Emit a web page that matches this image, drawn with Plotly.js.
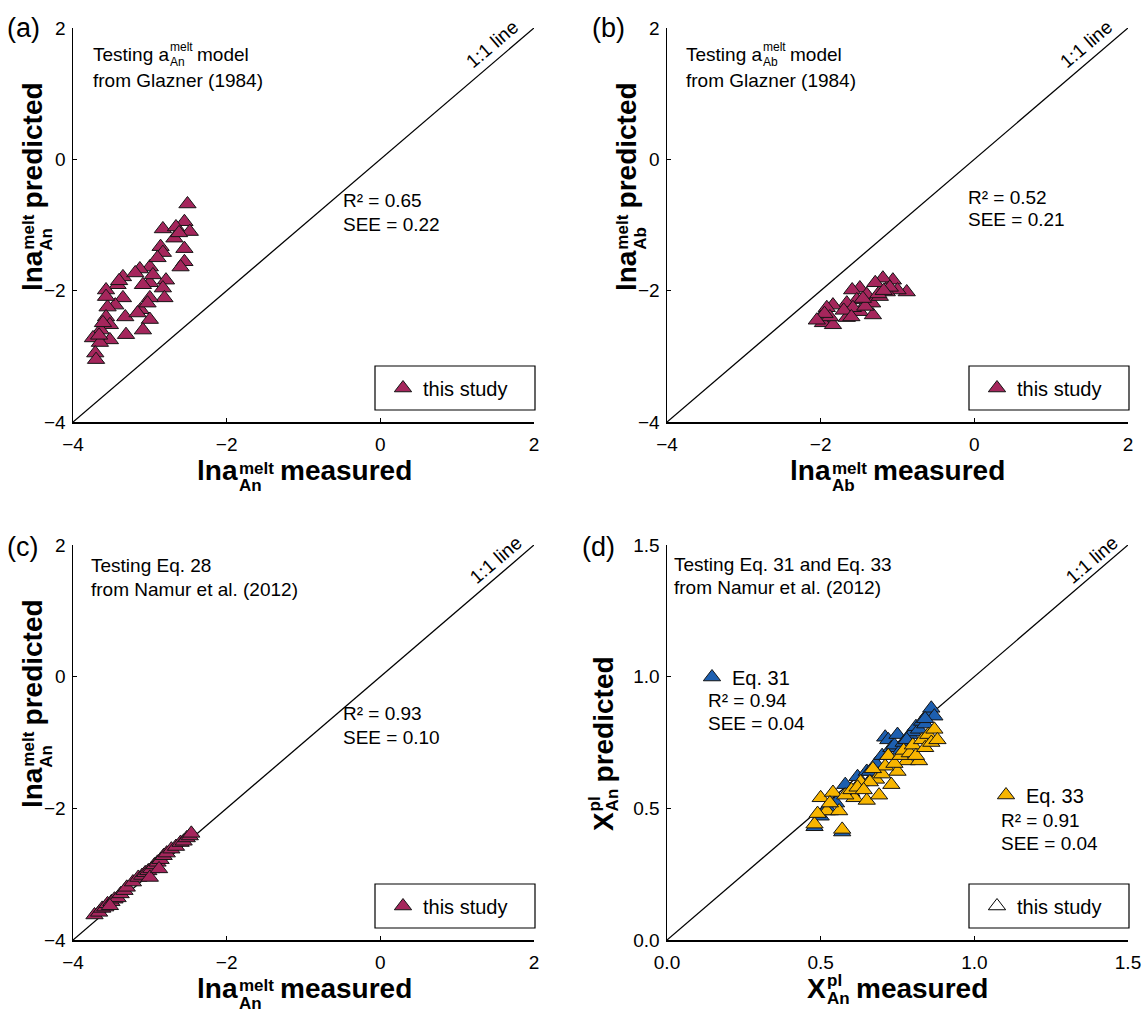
<!DOCTYPE html>
<html><head><meta charset="utf-8">
<script src="https://cdn.plot.ly/plotly-3.0.1.min.js"></script>
<style>html,body{margin:0;padding:0;background:#fff}#chart{width:1144px;height:1013px}</style>
</head><body><div id="chart"></div>
<script>
// ---------------- data ----------------
const aMeasured  = [-2.51,-2.55,-2.83,-2.66,-2.48,-2.68,-2.86,-2.55,-2.83,-2.55,-2.60,-3.00,-3.13,-2.90,-3.35,-3.00,-2.79,-3.09,-3.42,-3.57,-2.83,-2.81,-3.00,-3.35,-3.45,-3.55,-3.12,-3.00,-3.32,-3.57,-3.52,-3.64,-3.09,-3.31,-3.74,-3.52,-3.65,-3.71,-3.70,-3.57,-3.19,-2.96,-3.03,-3.16,-3.61,-3.40,-2.62,-3.66];
const aPredicted = [-0.68,-0.95,-1.06,-1.03,-1.10,-1.20,-1.33,-1.36,-1.42,-1.56,-1.64,-1.64,-1.67,-1.50,-1.79,-1.88,-1.84,-1.91,-1.91,-1.99,-1.96,-2.11,-2.11,-2.11,-2.22,-2.25,-2.29,-2.44,-2.40,-2.40,-2.52,-2.60,-2.60,-2.67,-2.72,-2.75,-2.79,-2.95,-3.05,-2.09,-1.73,-1.76,-2.19,-2.34,-2.49,-1.85,-1.12,-2.68];

const bMeasured  = [-0.88,-1.06,-1.19,-1.29,-1.00,-1.14,-1.49,-1.59,-1.40,-1.33,-1.53,-1.66,-1.49,-1.32,-1.66,-1.84,-1.92,-2.00,-1.97,-1.84,-1.88,-1.23,-1.58,-1.42,-1.10,-1.25,-1.70,-1.95,-2.05,-1.45,-1.18,-1.60];
const bPredicted = [-2.02,-1.84,-1.81,-1.88,-1.99,-2.02,-1.96,-1.99,-2.06,-2.19,-2.14,-2.19,-2.32,-2.37,-2.41,-2.22,-2.26,-2.41,-2.49,-2.52,-2.40,-2.09,-2.26,-2.24,-1.95,-2.05,-2.30,-2.35,-2.45,-2.12,-2.00,-2.40];

const cMeasured  = [-3.72,-3.66,-3.62,-3.58,-3.55,-3.50,-3.46,-3.42,-3.38,-3.33,-3.30,-3.22,-3.15,-3.10,-3.06,-3.02,-2.98,-2.94,-2.90,-2.86,-2.82,-2.78,-2.72,-2.66,-2.60,-2.56,-2.52,-2.48,-2.46,-3.52,-3.00,-2.88];
const cPredicted = [-3.62,-3.58,-3.52,-3.50,-3.45,-3.42,-3.38,-3.36,-3.30,-3.25,-3.20,-3.12,-3.05,-3.02,-2.98,-2.95,-2.92,-2.86,-2.82,-2.78,-2.72,-2.68,-2.62,-2.58,-2.52,-2.50,-2.45,-2.42,-2.38,-3.48,-3.05,-2.92];

const eq31Measured  = [0.48,0.50,0.52,0.55,0.57,0.58,0.60,0.62,0.63,0.65,0.67,0.68,0.70,0.71,0.72,0.73,0.74,0.75,0.76,0.77,0.78,0.79,0.80,0.81,0.82,0.83,0.84,0.85,0.86,0.87,0.62,0.66,0.72,0.78,0.84,0.53];
const eq31Predicted = [0.43,0.47,0.50,0.52,0.41,0.59,0.56,0.62,0.58,0.64,0.62,0.67,0.70,0.77,0.76,0.73,0.74,0.78,0.72,0.75,0.76,0.78,0.79,0.81,0.80,0.83,0.82,0.86,0.88,0.85,0.58,0.64,0.70,0.76,0.84,0.49];
const eq33Measured  = [0.48,0.57,0.52,0.56,0.50,0.61,0.65,0.69,0.73,0.75,0.68,0.63,0.54,0.78,0.82,0.49,0.53,0.58,0.60,0.62,0.66,0.70,0.71,0.72,0.74,0.76,0.77,0.79,0.80,0.81,0.83,0.84,0.85,0.86,0.87,0.88,0.64,0.67];
const eq33Predicted = [0.44,0.42,0.49,0.49,0.54,0.54,0.53,0.55,0.59,0.64,0.61,0.60,0.56,0.68,0.68,0.48,0.52,0.55,0.57,0.58,0.60,0.63,0.66,0.70,0.67,0.70,0.72,0.71,0.74,0.70,0.76,0.73,0.78,0.75,0.80,0.76,0.57,0.65];

const lnRange = [-4, 2];
const xRange  = [0, 1.5];
const lnTicks = [-4, -2, 0, 2];
const xTicks  = [0, 0.5, 1.0, 1.5];

// ---------------- helpers ----------------
const W = 1144, H = 1013;
const FONT = 'Liberation Sans, Arial, sans-serif';
const px = v => v / W, py = v => 1 - v / H;
const cvs = document.createElement('canvas').getContext('2d');
function tw(t, size, bold) { cvs.font = (bold ? 'bold ' : '') + size + 'px "Liberation Sans"'; return cvs.measureText(t).width; }
function ann(t, x, y, size, o = {}) {
  return Object.assign({ text: t, xref: 'paper', yref: 'paper', x: px(x), y: py(y), xanchor: 'left', yanchor: 'middle',
    showarrow: false, borderpad: 0, font: { family: FONT, size: size, color: '#000', weight: o.bold ? 'bold' : 'normal' } }, o.extra || {});
}
function stackH(pre, sup, sub, post, o) {
  const s = o.size, ss = o.ssize, b = !!o.bold;
  const wPre = tw(pre, s, b), wSS = Math.max(tw(sup, ss, b), tw(sub, ss, b)), gap = tw(' ', s, b), wPost = tw(post, s, b);
  const total = wPre + wSS + gap + wPost;
  const x0 = o.cx !== undefined ? o.cx - total / 2 : o.x;
  return [
    ann(pre, x0, o.cy, s, { bold: b }),
    ann(sup, x0 + wPre + 1, o.cy + o.supDy, ss, { bold: b }),
    ann(sub, x0 + wPre + 1, o.cy + o.subDy, ss, { bold: b }),
    ann(post, x0 + wPre + wSS + gap, o.cy, s, { bold: b })
  ];
}
function stackV(pre, sup, sub, post, o) {
  const s = o.size, ss = o.ssize, b = true;
  const wPre = tw(pre, s, b), wSS = Math.max(tw(sup, ss, b), tw(sub, ss, b)), gap = tw(' ', s, b), wPost = tw(post, s, b);
  const total = wPre + wSS + gap + wPost;
  const bottom = o.cy + total / 2;
  const mk = (t, x, y, size) => ann(t, x, y, size, { bold: b, extra: { textangle: -90, xanchor: 'center', yanchor: 'bottom' } });
  return [
    mk(pre, o.cx, bottom, s),
    mk(sup, o.cx + o.supDx, bottom - wPre - 1, ss),
    mk(sub, o.cx + o.subDx, bottom - wPre - 1, ss),
    mk(post, o.cx, bottom - wPre - wSS - gap, s)
  ];
}

const P = {
  a: { l: 73, r: 534, t: 28, b: 422 },
  b: { l: 667, r: 1128, t: 28, b: 422 },
  c: { l: 73, r: 534, t: 545, b: 940 },
  d: { l: 667, r: 1128, t: 545, b: 940 }
};

function xax(p, range, ticks, fmt) {
  return { domain: [px(p.l), px(p.r)], range: range, tickvals: ticks, tickformat: fmt, showgrid: false, zeroline: false,
    showline: true, linecolor: '#000', linewidth: 1.5, ticks: 'inside', ticklen: 4, tickcolor: '#000', tickwidth: 1,
    ticklabelstandoff: 5, tickfont: { family: FONT, size: 19, color: '#000' }, fixedrange: true };
}
function yax(p, range, ticks, fmt) {
  return { domain: [py(p.b), py(p.t)], range: range, tickvals: ticks, tickformat: fmt, showgrid: false, zeroline: false,
    showline: true, linecolor: '#000', linewidth: 1.5, ticks: 'inside', ticklen: 4, tickcolor: '#000', tickwidth: 1,
    ticklabelstandoff: 2, tickfont: { family: FONT, size: 19, color: '#000' }, fixedrange: true };
}

const MAROON = '#A5265C', BLUE = '#1D5FB0', YELLOW = '#F7B500', EDGE = '#151515';
const mk = (c) => ({ symbol: 'triangle-up', size: 15, color: c, line: { color: EDGE, width: 1 } });
const oneLine = (rng, xa, ya) => ({ x: rng, y: rng, xaxis: xa, yaxis: ya, mode: 'lines', line: { color: '#000', width: 1.3 }, showlegend: false, hoverinfo: 'skip' });

const traces = [
  oneLine(lnRange, 'x', 'y'),
  { x: aMeasured, y: aPredicted, xaxis: 'x', yaxis: 'y', mode: 'markers', name: 'this study', marker: mk(MAROON), legend: 'legend' },
  oneLine(lnRange, 'x2', 'y2'),
  { x: bMeasured, y: bPredicted, xaxis: 'x2', yaxis: 'y2', mode: 'markers', name: 'this study', marker: mk(MAROON), legend: 'legend2' },
  oneLine(lnRange, 'x3', 'y3'),
  { x: cMeasured, y: cPredicted, xaxis: 'x3', yaxis: 'y3', mode: 'markers', name: 'this study', marker: mk(MAROON), legend: 'legend3' },
  oneLine(xRange, 'x4', 'y4'),
  { x: eq31Measured, y: eq31Predicted, xaxis: 'x4', yaxis: 'y4', mode: 'markers', name: 'Eq. 31', marker: mk(BLUE), legend: 'legend5' },
  { x: eq33Measured, y: eq33Predicted, xaxis: 'x4', yaxis: 'y4', mode: 'markers', name: 'Eq. 33', marker: mk(YELLOW), legend: 'legend6' },
  { x: [null], y: [null], xaxis: 'x4', yaxis: 'y4', mode: 'markers', name: 'this study', legend: 'legend4',
    marker: { symbol: 'triangle-up-open', size: 15, color: '#000', line: { width: 1 } } }
];

function leg(x, y) {
  return { x: px(x), y: py(y), xanchor: 'left', yanchor: 'middle', bgcolor: 'rgba(0,0,0,0)', borderwidth: 0,
    font: { family: FONT, size: 20, color: '#000' }, itemclick: false, itemdoubleclick: false, tracegroupgap: 0 };
}

const annotations = [];
annotations.push(ann('(a)', 6, 28, 27), ann('(b)', 591, 28, 27), ann('(c)', 6, 547, 27), ann('(d)', 581, 547, 27));
const ang = -Math.atan((P.a.b - P.a.t) / (P.a.r - P.a.l)) * 180 / Math.PI;
[[492, 45], [1086, 45], [495, 560], [1091, 560]].forEach(([x, y]) =>
  annotations.push(ann('1:1 line', x, y, 19, { extra: { xanchor: 'center', textangle: ang } })));
annotations.push(...stackH('Testing a', 'melt', 'An', 'model', { x: 92, cy: 55, size: 19, ssize: 12, supDy: -8, subDy: 7 }));
annotations.push(ann('from Glazner (1984)', 92, 80, 19));
annotations.push(...stackH('Testing a', 'melt', 'Ab', 'model', { x: 685, cy: 55, size: 19, ssize: 12, supDy: -8, subDy: 7 }));
annotations.push(ann('from Glazner (1984)', 685, 80, 19));
annotations.push(ann('Testing Eq. 28', 90, 565, 19), ann('from Namur et al. (2012)', 90, 589, 19));
annotations.push(ann('Testing Eq. 31 and Eq. 33', 673, 564, 19), ann('from Namur et al. (2012)', 673, 587, 19));
annotations.push(ann('R² = 0.65', 342, 200, 19), ann('SEE = 0.22', 342, 224, 19));
annotations.push(ann('R² = 0.52', 967, 197, 19), ann('SEE = 0.21', 967, 220, 19));
annotations.push(ann('R² = 0.93', 342, 713, 19), ann('SEE = 0.10', 342, 737, 19));
annotations.push(ann('R² = 0.94', 707, 700, 19), ann('SEE = 0.04', 707, 723, 19));
annotations.push(ann('R² = 0.91', 1000, 820, 19), ann('SEE = 0.04', 1000, 843, 19));
annotations.push(...stackH('lna', 'melt', 'An', 'measured', { cx: 304, cy: 471, size: 28, ssize: 17, bold: true, supDy: -3, subDy: 15 }));
annotations.push(...stackH('lna', 'melt', 'Ab', 'measured', { cx: 897, cy: 471, size: 28, ssize: 17, bold: true, supDy: -3, subDy: 15 }));
annotations.push(...stackH('lna', 'melt', 'An', 'measured', { cx: 304, cy: 988, size: 28, ssize: 17, bold: true, supDy: -3, subDy: 15 }));
annotations.push(...stackH('X', 'pl', 'An', 'measured', { cx: 897, cy: 988, size: 28, ssize: 17, bold: true, supDy: -8, subDy: 10 }));
annotations.push(...stackV('lna', 'melt', 'An', 'predicted', { cx: 32, cy: 188, size: 28, ssize: 17, supDx: -3, subDx: 15 }));
annotations.push(...stackV('lna', 'melt', 'Ab', 'predicted', { cx: 626, cy: 188, size: 28, ssize: 17, supDx: -3, subDx: 15 }));
annotations.push(...stackV('lna', 'melt', 'An', 'predicted', { cx: 32, cy: 705, size: 28, ssize: 17, supDx: -3, subDx: 15 }));
annotations.push(...stackV('X', 'pl', 'An', 'predicted', { cx: 603, cy: 745, size: 28, ssize: 17, supDx: -9, subDx: 9 }));

const box = (l, t, r, b) => ({ type: 'rect', xref: 'paper', yref: 'paper', x0: px(l), x1: px(r), y0: py(b), y1: py(t), line: { color: '#000', width: 1.2 }, fillcolor: 'rgba(0,0,0,0)' });

const layout = {
  width: W, height: H, autosize: false, margin: { l: 0, r: 0, t: 0, b: 0 },
  paper_bgcolor: '#fff', plot_bgcolor: 'rgba(0,0,0,0)',
  font: { family: FONT, color: '#000' },
  xaxis: Object.assign(xax(P.a, lnRange, lnTicks), { anchor: 'y' }), yaxis: Object.assign(yax(P.a, lnRange, lnTicks), { anchor: 'x' }),
  xaxis2: Object.assign(xax(P.b, lnRange, lnTicks), { anchor: 'y2' }), yaxis2: Object.assign(yax(P.b, lnRange, lnTicks), { anchor: 'x2' }),
  xaxis3: Object.assign(xax(P.c, lnRange, lnTicks), { anchor: 'y3' }), yaxis3: Object.assign(yax(P.c, lnRange, lnTicks), { anchor: 'x3' }),
  xaxis4: Object.assign(xax(P.d, xRange, xTicks, '.1f'), { anchor: 'y4' }), yaxis4: Object.assign(yax(P.d, xRange, xTicks, '.1f'), { anchor: 'x4' }),
  legend: leg(383, 388), legend2: leg(977, 388), legend3: leg(383, 906), legend4: leg(977, 906),
  legend5: leg(692, 677), legend6: leg(986, 795),
  shapes: [box(375, 366, 535, 410), box(969, 366, 1129, 410), box(375, 884, 535, 928), box(969, 884, 1129, 928)],
  annotations: annotations
};

Plotly.newPlot('chart', traces, layout, { staticPlot: true, displayModeBar: false });
</script>
</body></html>
